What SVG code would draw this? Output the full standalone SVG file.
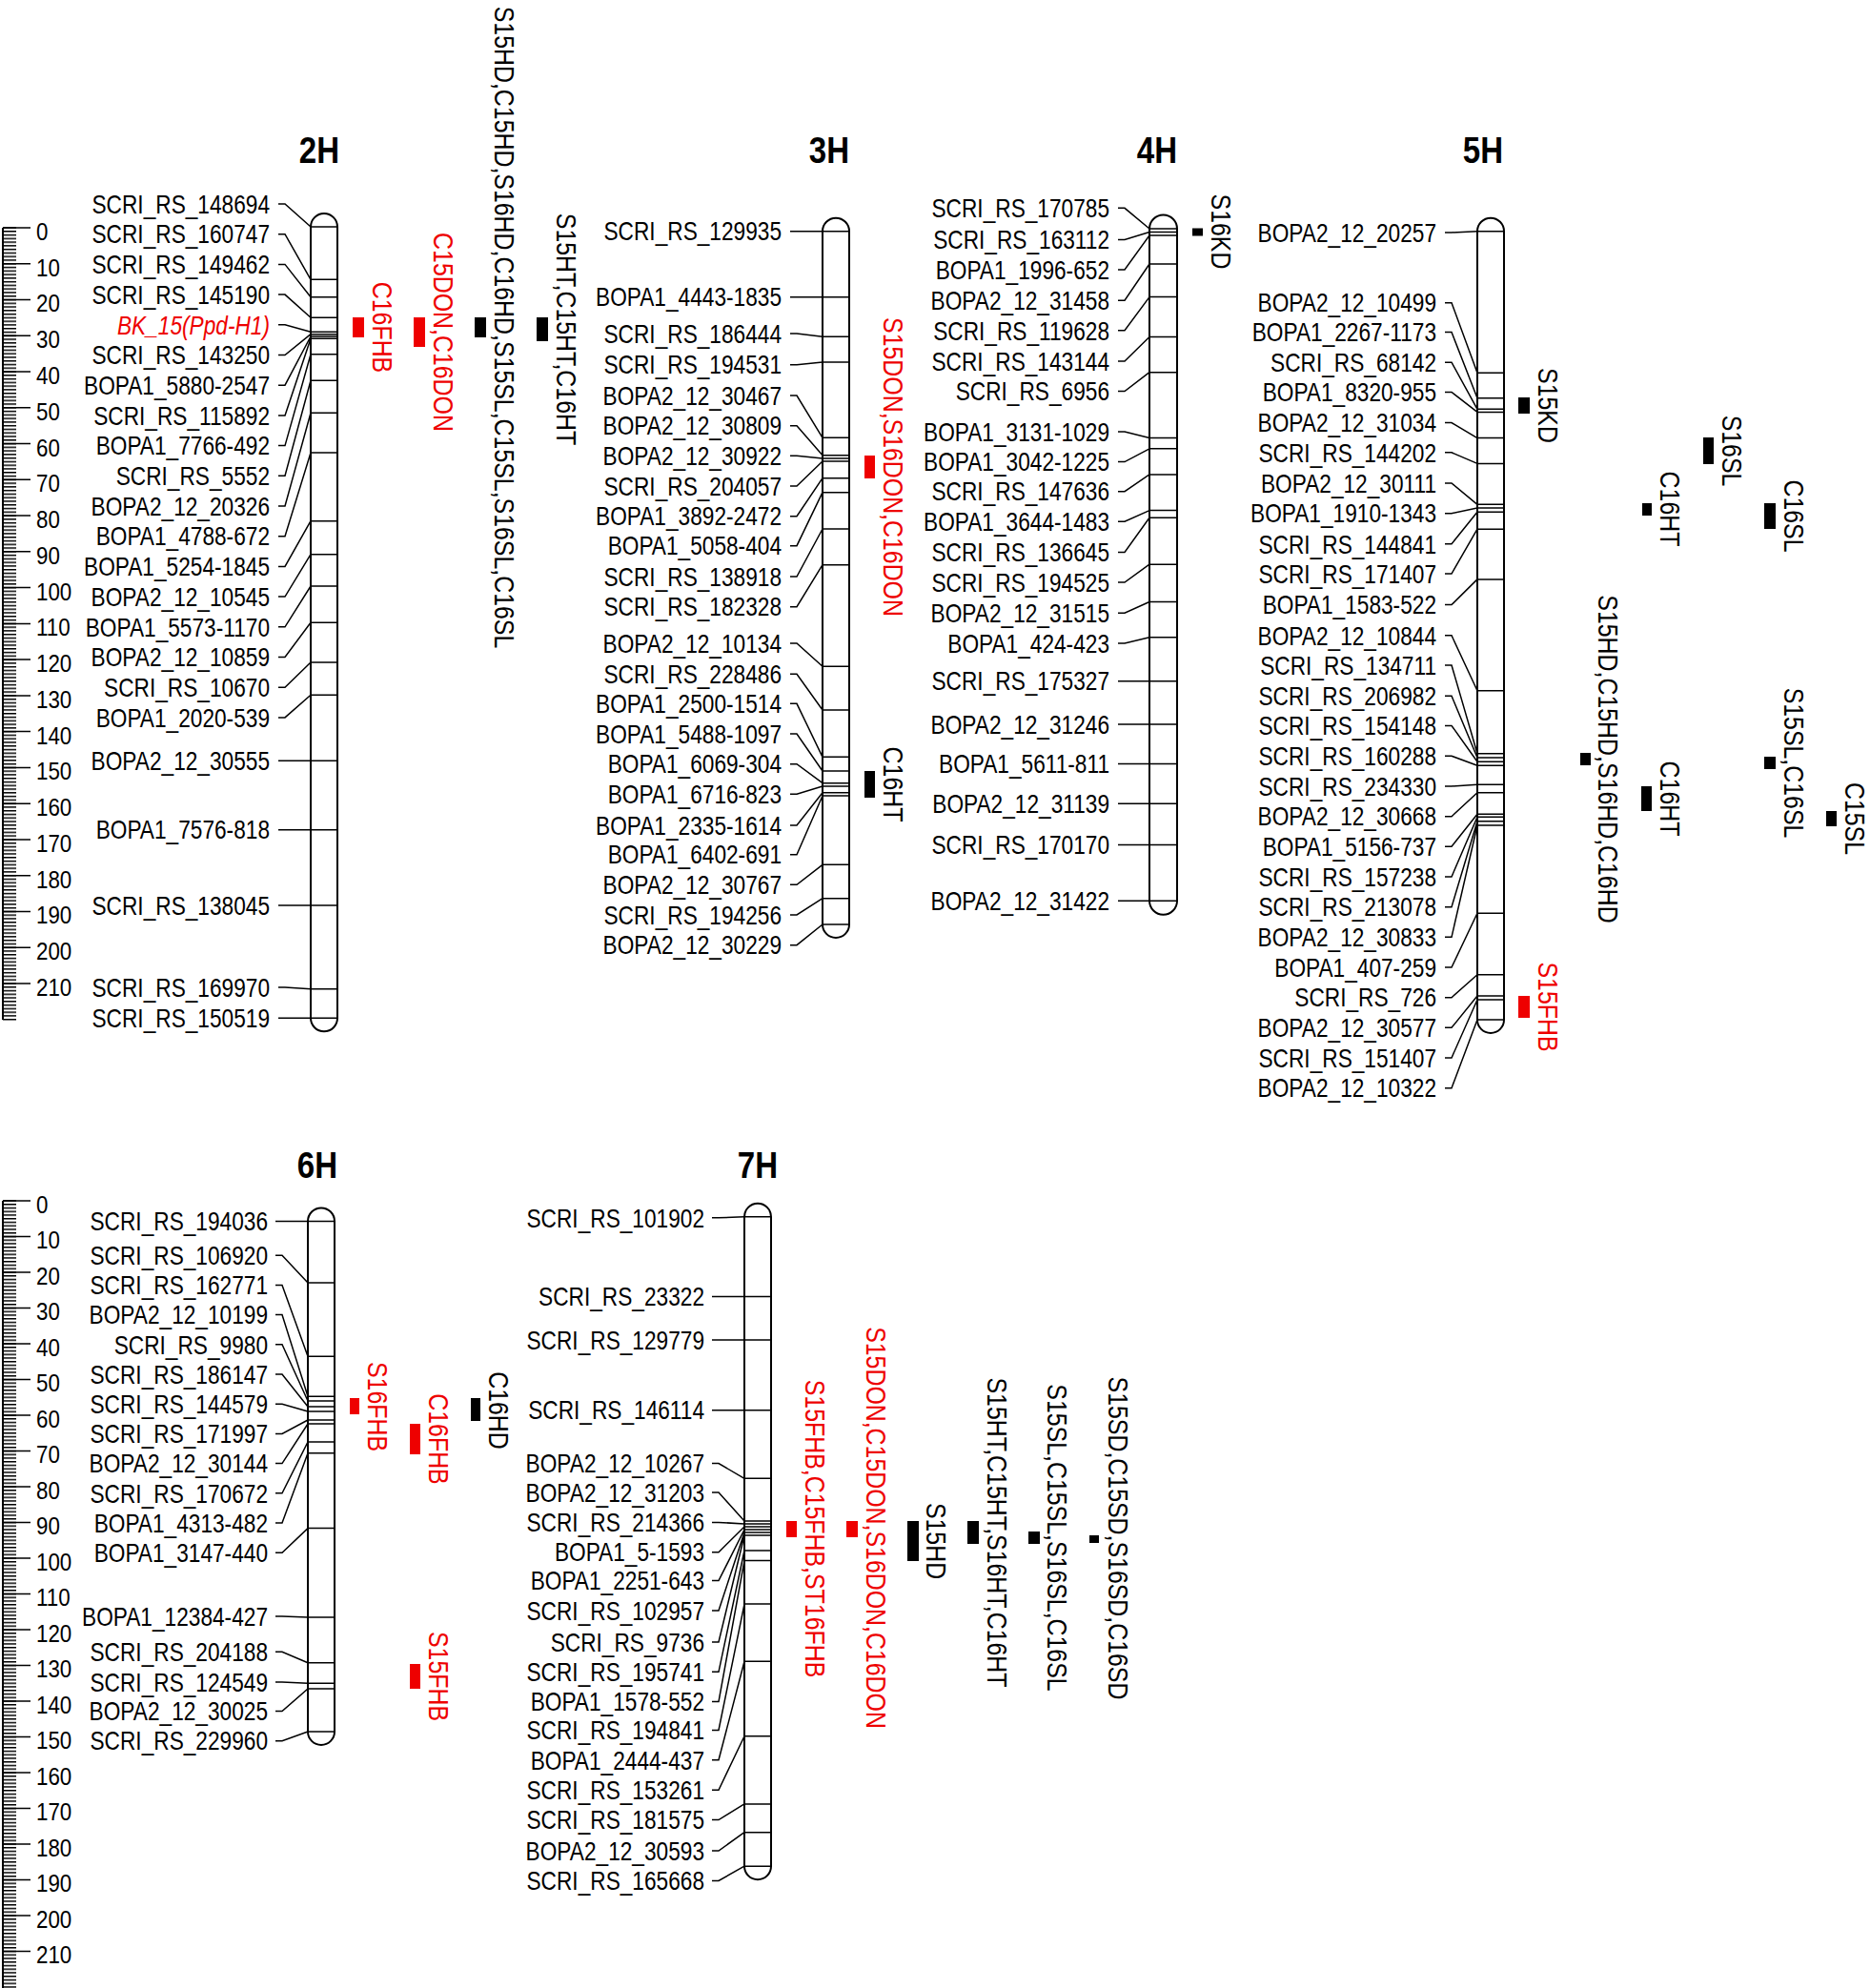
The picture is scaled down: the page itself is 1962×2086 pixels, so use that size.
<svg xmlns="http://www.w3.org/2000/svg" width="1962" height="2086" viewBox="0 0 1962 2086">
<style>
text{font-family:"Liberation Sans",Arial,sans-serif;fill:#000}
.t{font-size:27px;text-anchor:end}
.s{font-size:26px}
.h{font-size:38px;font-weight:bold;text-anchor:middle}
.q{font-size:30px;text-anchor:middle}
.r{fill:#ee0000}
.i{font-style:italic}
.chr{fill:#fff;stroke:#000;stroke-width:2}
.mk{fill:none;stroke:#000;stroke-width:1.5}
.cn{fill:none;stroke:#000;stroke-width:1.5}
.bk{fill:#000}
.rb{fill:#ee0000}
.ax{fill:none;stroke:#000;stroke-width:2}
</style>
<defs>
<pattern id="tk1" patternUnits="userSpaceOnUse" x="0" y="238.25" width="40" height="3.776"><path d="M3,0.75H17" stroke="#000" stroke-width="1.5"/></pattern>
<pattern id="tk2" patternUnits="userSpaceOnUse" x="0" y="1259.25" width="40" height="3.75"><path d="M3,0.75H17" stroke="#000" stroke-width="1.5"/></pattern>
</defs>
<rect width="1962" height="2086" fill="#fff"/>

<g id="ruler-top">
<rect x="0" y="238" width="20" height="833" fill="url(#tk1)"/>
<path class="ax" d="M3,239V1070"/>
<path class="mk" d="M3,239H32M3,276.8H32M3,314.5H32M3,352.3H32M3,390H32M3,427.8H32M3,465.6H32M3,503.3H32M3,541.1H32M3,578.8H32M3,616.6H32M3,654.4H32M3,692.1H32M3,729.9H32M3,767.6H32M3,805.4H32M3,843.2H32M3,880.9H32M3,918.7H32M3,956.4H32M3,994.2H32M3,1032H32"/>
<g transform="scale(0.86,1)">
<text class="s" x="44.2" y="252">0</text><text class="s" x="44.2" y="289.8">10</text><text class="s" x="44.2" y="327.5">20</text><text class="s" x="44.2" y="365.3">30</text><text class="s" x="44.2" y="403">40</text><text class="s" x="44.2" y="440.8">50</text><text class="s" x="44.2" y="478.6">60</text><text class="s" x="44.2" y="516.3">70</text><text class="s" x="44.2" y="554.1">80</text><text class="s" x="44.2" y="591.8">90</text><text class="s" x="44.2" y="629.6">100</text><text class="s" x="44.2" y="667.4">110</text><text class="s" x="44.2" y="705.1">120</text><text class="s" x="44.2" y="742.9">130</text><text class="s" x="44.2" y="780.6">140</text><text class="s" x="44.2" y="818.4">150</text><text class="s" x="44.2" y="856.2">160</text><text class="s" x="44.2" y="893.9">170</text><text class="s" x="44.2" y="931.7">180</text><text class="s" x="44.2" y="969.4">190</text><text class="s" x="44.2" y="1007.2">200</text><text class="s" x="44.2" y="1045">210</text>
</g>
</g>

<g id="ruler-bottom">
<rect x="0" y="1259" width="20" height="827" fill="url(#tk2)"/>
<path class="ax" d="M3,1260V2086"/>
<path class="mk" d="M3,1260H32M3,1297.5H32M3,1335H32M3,1372.5H32M3,1410H32M3,1447.5H32M3,1485H32M3,1522.5H32M3,1560H32M3,1597.5H32M3,1635H32M3,1672.5H32M3,1710H32M3,1747.5H32M3,1785H32M3,1822.5H32M3,1860H32M3,1897.5H32M3,1935H32M3,1972.5H32M3,2010H32M3,2047.5H32"/>
<g transform="scale(0.86,1)">
<text class="s" x="44.2" y="1273">0</text><text class="s" x="44.2" y="1310.5">10</text><text class="s" x="44.2" y="1348">20</text><text class="s" x="44.2" y="1385.5">30</text><text class="s" x="44.2" y="1423">40</text><text class="s" x="44.2" y="1460.5">50</text><text class="s" x="44.2" y="1498">60</text><text class="s" x="44.2" y="1535.5">70</text><text class="s" x="44.2" y="1573">80</text><text class="s" x="44.2" y="1610.5">90</text><text class="s" x="44.2" y="1648">100</text><text class="s" x="44.2" y="1685.5">110</text><text class="s" x="44.2" y="1723">120</text><text class="s" x="44.2" y="1760.5">130</text><text class="s" x="44.2" y="1798">140</text><text class="s" x="44.2" y="1835.5">150</text><text class="s" x="44.2" y="1873">160</text><text class="s" x="44.2" y="1910.5">170</text><text class="s" x="44.2" y="1948">180</text><text class="s" x="44.2" y="1985.5">190</text><text class="s" x="44.2" y="2023">200</text><text class="s" x="44.2" y="2060.5">210</text>
</g>
</g>

<g id="connectors">
<path class="cn" d="M292,214H299L326,238M292,245.7H299L326,293.3M292,277.4H299L326,311.7M292,309.1H299L326,333.3M292,340.8H299L326,348.3M292,372.5H299L326,350.7M292,404.2H299L326,353M292,435.9H299L326,355.3M292,467.6H299L326,371.7M292,499.3H299L326,399.3M292,531H299L326,433.3M292,562.7H299L326,475M292,594.4H299L326,546.7M292,626.1H299L326,581.7M292,657.8H299L326,615M292,689.5H299L326,653.3M292,721.2H299L326,695M292,752.9H299L326,729.3M292,798.3H326M292,870.7H326M292,950H326M292,1036H299L326,1037.7M292,1068.3H326"/>
<path class="cn" d="M829,242.7H863M829,311.7H863M829,350H836L863,353.3M829,382.7H836L863,380M829,415H836L863,459.3M829,446.7H836L863,477.7M829,478.3H836L863,481M829,510H836L863,484M829,541.7H836L863,501.7M829,572.7H836L863,516.7M829,605H836L863,555M829,636.7H836L863,592.7M829,675H836L863,699.3M829,707.3H836L863,745M829,738.3H836L863,794.3M829,770H836L863,809M829,801.7H836L863,821.7M829,833.3H836L863,825M829,866H836L863,831.7M829,896.7H836L863,835M829,928.3H836L863,907.3M829,960H836L863,942.7M829,991.7H836L863,970"/>
<path class="cn" d="M1173,218.3H1180L1206,240M1173,251.4H1180L1206,243.5M1173,283H1180L1206,247M1173,315.2H1180L1206,277M1173,346.8H1180L1206,311.6M1173,379H1180L1206,353.5M1173,410.6H1180L1206,390.7M1173,453H1180L1206,459.6M1173,484.6H1180L1206,470.8M1173,515.7H1180L1206,497.9M1173,547.3H1180L1206,535.6M1173,579.5H1180L1206,543.3M1173,611.1H1180L1206,592.2M1173,643.3H1180L1206,631.5M1173,674.9H1180L1206,668.8M1173,714.7H1206M1173,760H1206M1173,801.4H1206M1173,843.3H1206M1173,886.6H1206M1173,945.3H1206"/>
<path class="cn" d="M1516,244H1523L1550,242.7M1516,317.7H1523L1550,391.3M1516,348.5H1523L1550,417.7M1516,380.2H1523L1550,429.3M1516,411.4H1523L1550,432.4M1516,443.6H1523L1550,459.6M1516,474.8H1523L1550,486.4M1516,507H1523L1550,529.3M1516,538.7H1523L1550,532.9M1516,570.8H1523L1550,537.3M1516,602H1523L1550,555.2M1516,634.6H1523L1550,607.9M1516,666.8H1523L1550,724.8M1516,698H1523L1550,790.7M1516,730.2H1523L1550,795M1516,761.4H1523L1550,799.3M1516,793.3H1523L1550,803.3M1516,825H1523L1550,823.3M1516,856.7H1523L1550,831.7M1516,888.3H1523L1550,854.3M1516,920H1523L1550,857.3M1516,951.7H1523L1550,861.7M1516,983.3H1523L1550,866M1516,1015H1523L1550,958.3M1516,1046.7H1523L1550,1022.7M1516,1078.3H1523L1550,1045M1516,1110H1523L1550,1049M1516,1141.7H1523L1550,1070"/>
<path class="cn" d="M289,1281.4H323M289,1317.2H296L323,1346M289,1348.4H296L323,1423.2M289,1379.6H296L323,1465.3M289,1410.8H296L323,1470M289,1442H296L323,1476M289,1473.2H296L323,1481M289,1504.4H296L323,1490M289,1535.6H296L323,1494M289,1566.8H296L323,1513M289,1598H296L323,1524.7M289,1629.2H296L323,1603.6M289,1695.9H296L323,1697M289,1733.3H296L323,1744.8M289,1765H296L323,1766.2M289,1795.6H296L323,1772M289,1826.7H296L323,1817"/>
<path class="cn" d="M747,1277.8H754L781,1276.8M747,1360.4H781M747,1406H781M747,1479.7H781M747,1535.6H754L781,1551.3M747,1566H754L781,1596M747,1597.4H754L781,1599M747,1628.7H754L781,1602M747,1658.6H754L781,1605M747,1690H754L781,1608M747,1722.9H754L781,1611M747,1754.3H754L781,1627M747,1785.6H754L781,1637.6M747,1815.5H754L781,1683.1M747,1846.8H754L781,1743.3M747,1878.2H754L781,1821.7M747,1909.6H754L781,1892.9M747,1942H754L781,1922.7M747,1973.4H754L781,1958.2"/>
</g>

<g id="chr-2H">
<text class="h" transform="translate(335,171) scale(0.87,1)">2H</text>
<path class="chr" d="M326,238A14,14 0 0 1 354,238V1068.3A14,14 0 0 1 326,1068.3Z"/>
<path class="mk" d="M326,238H354M326,293.3H354M326,311.7H354M326,333.3H354M326,348.3H354M326,350.7H354M326,353H354M326,355.3H354M326,371.7H354M326,399.3H354M326,433.3H354M326,475H354M326,546.7H354M326,581.7H354M326,615H354M326,653.3H354M326,695H354M326,729.3H354M326,798.3H354M326,870.7H354M326,950H354M326,1037.7H354M326,1068.3H354"/>
<text class="t" transform="translate(283,223.7) scale(0.84,1)">SCRI_RS_148694</text>
<text class="t" transform="translate(283,255.4) scale(0.84,1)">SCRI_RS_160747</text>
<text class="t" transform="translate(283,287.1) scale(0.84,1)">SCRI_RS_149462</text>
<text class="t" transform="translate(283,318.8) scale(0.84,1)">SCRI_RS_145190</text>
<text class="t r i" transform="translate(283,350.5) scale(0.84,1)">BK_15(Ppd-H1)</text>
<text class="t" transform="translate(283,382.2) scale(0.84,1)">SCRI_RS_143250</text>
<text class="t" transform="translate(283,413.9) scale(0.84,1)">BOPA1_5880-2547</text>
<text class="t" transform="translate(283,445.6) scale(0.84,1)">SCRI_RS_115892</text>
<text class="t" transform="translate(283,477.3) scale(0.84,1)">BOPA1_7766-492</text>
<text class="t" transform="translate(283,509) scale(0.84,1)">SCRI_RS_5552</text>
<text class="t" transform="translate(283,540.7) scale(0.84,1)">BOPA2_12_20326</text>
<text class="t" transform="translate(283,572.4) scale(0.84,1)">BOPA1_4788-672</text>
<text class="t" transform="translate(283,604.1) scale(0.84,1)">BOPA1_5254-1845</text>
<text class="t" transform="translate(283,635.8) scale(0.84,1)">BOPA2_12_10545</text>
<text class="t" transform="translate(283,667.5) scale(0.84,1)">BOPA1_5573-1170</text>
<text class="t" transform="translate(283,699.2) scale(0.84,1)">BOPA2_12_10859</text>
<text class="t" transform="translate(283,730.9) scale(0.84,1)">SCRI_RS_10670</text>
<text class="t" transform="translate(283,762.6) scale(0.84,1)">BOPA1_2020-539</text>
<text class="t" transform="translate(283,808) scale(0.84,1)">BOPA2_12_30555</text>
<text class="t" transform="translate(283,880.4) scale(0.84,1)">BOPA1_7576-818</text>
<text class="t" transform="translate(283,959.7) scale(0.84,1)">SCRI_RS_138045</text>
<text class="t" transform="translate(283,1045.7) scale(0.84,1)">SCRI_RS_169970</text>
<text class="t" transform="translate(283,1078) scale(0.84,1)">SCRI_RS_150519</text>
</g>

<g id="qtl-2H">
<rect class="rb" x="370" y="333" width="12" height="21"/>
<text class="q r" transform="translate(391,343.5) rotate(90) scale(0.83,1)">C16FHB</text>
<rect class="rb" x="434" y="333" width="12" height="31"/>
<text class="q r" transform="translate(455,348.5) rotate(90) scale(0.83,1)">C15DON,C16DON</text>
<rect class="bk" x="498" y="333" width="12" height="21"/>
<text class="q" transform="translate(519,343.5) rotate(90) scale(0.83,1)">S15HD,C15HD,S16HD,C16HD,S15SL,C15SL,S16SL,C16SL</text>
<rect class="bk" x="563" y="333" width="12" height="25"/>
<text class="q" transform="translate(584,345.5) rotate(90) scale(0.83,1)">S15HT,C15HT,C16HT</text>
</g>

<g id="chr-3H">
<text class="h" transform="translate(870,171) scale(0.87,1)">3H</text>
<path class="chr" d="M863,242.7A14,14 0 0 1 891,242.7V970A14,14 0 0 1 863,970Z"/>
<path class="mk" d="M863,242.7H891M863,311.7H891M863,353.3H891M863,380H891M863,459.3H891M863,477.7H891M863,481H891M863,484H891M863,501.7H891M863,516.7H891M863,555H891M863,592.7H891M863,699.3H891M863,745H891M863,794.3H891M863,809H891M863,821.7H891M863,825H891M863,831.7H891M863,835H891M863,907.3H891M863,942.7H891M863,970H891"/>
<text class="t" transform="translate(820,252.4) scale(0.84,1)">SCRI_RS_129935</text>
<text class="t" transform="translate(820,321.4) scale(0.84,1)">BOPA1_4443-1835</text>
<text class="t" transform="translate(820,359.7) scale(0.84,1)">SCRI_RS_186444</text>
<text class="t" transform="translate(820,392.4) scale(0.84,1)">SCRI_RS_194531</text>
<text class="t" transform="translate(820,424.7) scale(0.84,1)">BOPA2_12_30467</text>
<text class="t" transform="translate(820,456.4) scale(0.84,1)">BOPA2_12_30809</text>
<text class="t" transform="translate(820,488) scale(0.84,1)">BOPA2_12_30922</text>
<text class="t" transform="translate(820,519.7) scale(0.84,1)">SCRI_RS_204057</text>
<text class="t" transform="translate(820,551.4) scale(0.84,1)">BOPA1_3892-2472</text>
<text class="t" transform="translate(820,582.4) scale(0.84,1)">BOPA1_5058-404</text>
<text class="t" transform="translate(820,614.7) scale(0.84,1)">SCRI_RS_138918</text>
<text class="t" transform="translate(820,646.4) scale(0.84,1)">SCRI_RS_182328</text>
<text class="t" transform="translate(820,684.7) scale(0.84,1)">BOPA2_12_10134</text>
<text class="t" transform="translate(820,717) scale(0.84,1)">SCRI_RS_228486</text>
<text class="t" transform="translate(820,748) scale(0.84,1)">BOPA1_2500-1514</text>
<text class="t" transform="translate(820,779.7) scale(0.84,1)">BOPA1_5488-1097</text>
<text class="t" transform="translate(820,811.4) scale(0.84,1)">BOPA1_6069-304</text>
<text class="t" transform="translate(820,843) scale(0.84,1)">BOPA1_6716-823</text>
<text class="t" transform="translate(820,875.7) scale(0.84,1)">BOPA1_2335-1614</text>
<text class="t" transform="translate(820,906.4) scale(0.84,1)">BOPA1_6402-691</text>
<text class="t" transform="translate(820,938) scale(0.84,1)">BOPA2_12_30767</text>
<text class="t" transform="translate(820,969.7) scale(0.84,1)">SCRI_RS_194256</text>
<text class="t" transform="translate(820,1001.4) scale(0.84,1)">BOPA2_12_30229</text>
</g>

<g id="qtl-3H">
<rect class="rb" x="907" y="478" width="11" height="24"/>
<text class="q r" transform="translate(927,490) rotate(90) scale(0.83,1)">S15DON,S16DON,C16DON</text>
<rect class="bk" x="907" y="809" width="11" height="28"/>
<text class="q" transform="translate(927,823) rotate(90) scale(0.83,1)">C16HT</text>
</g>

<g id="chr-4H">
<text class="h" transform="translate(1214,171) scale(0.87,1)">4H</text>
<path class="chr" d="M1206,240A14.5,14.5 0 0 1 1235,240V945.3A14.5,14.5 0 0 1 1206,945.3Z"/>
<path class="mk" d="M1206,240H1235M1206,243.5H1235M1206,247H1235M1206,277H1235M1206,311.6H1235M1206,353.5H1235M1206,390.7H1235M1206,459.6H1235M1206,470.8H1235M1206,497.9H1235M1206,535.6H1235M1206,543.3H1235M1206,592.2H1235M1206,631.5H1235M1206,668.8H1235M1206,714.7H1235M1206,760H1235M1206,801.4H1235M1206,843.3H1235M1206,886.6H1235M1206,945.3H1235"/>
<text class="t" transform="translate(1164,228) scale(0.84,1)">SCRI_RS_170785</text>
<text class="t" transform="translate(1164,261.1) scale(0.84,1)">SCRI_RS_163112</text>
<text class="t" transform="translate(1164,292.7) scale(0.84,1)">BOPA1_1996-652</text>
<text class="t" transform="translate(1164,324.9) scale(0.84,1)">BOPA2_12_31458</text>
<text class="t" transform="translate(1164,356.5) scale(0.84,1)">SCRI_RS_119628</text>
<text class="t" transform="translate(1164,388.7) scale(0.84,1)">SCRI_RS_143144</text>
<text class="t" transform="translate(1164,420.3) scale(0.84,1)">SCRI_RS_6956</text>
<text class="t" transform="translate(1164,462.7) scale(0.84,1)">BOPA1_3131-1029</text>
<text class="t" transform="translate(1164,494.3) scale(0.84,1)">BOPA1_3042-1225</text>
<text class="t" transform="translate(1164,525.4) scale(0.84,1)">SCRI_RS_147636</text>
<text class="t" transform="translate(1164,557) scale(0.84,1)">BOPA1_3644-1483</text>
<text class="t" transform="translate(1164,589.2) scale(0.84,1)">SCRI_RS_136645</text>
<text class="t" transform="translate(1164,620.8) scale(0.84,1)">SCRI_RS_194525</text>
<text class="t" transform="translate(1164,653) scale(0.84,1)">BOPA2_12_31515</text>
<text class="t" transform="translate(1164,684.6) scale(0.84,1)">BOPA1_424-423</text>
<text class="t" transform="translate(1164,724.4) scale(0.84,1)">SCRI_RS_175327</text>
<text class="t" transform="translate(1164,769.7) scale(0.84,1)">BOPA2_12_31246</text>
<text class="t" transform="translate(1164,811.1) scale(0.84,1)">BOPA1_5611-811</text>
<text class="t" transform="translate(1164,853) scale(0.84,1)">BOPA2_12_31139</text>
<text class="t" transform="translate(1164,896.3) scale(0.84,1)">SCRI_RS_170170</text>
<text class="t" transform="translate(1164,955) scale(0.84,1)">BOPA2_12_31422</text>
</g>

<g id="qtl-4H">
<rect class="bk" x="1251" y="239.5" width="11" height="8"/>
<text class="q" transform="translate(1271,243) rotate(90) scale(0.83,1)">S16KD</text>
</g>

<g id="chr-5H">
<text class="h" transform="translate(1556,171) scale(0.87,1)">5H</text>
<path class="chr" d="M1550,242.7A14,14 0 0 1 1578,242.7V1070A14,14 0 0 1 1550,1070Z"/>
<path class="mk" d="M1550,242.7H1578M1550,391.3H1578M1550,417.7H1578M1550,429.3H1578M1550,432.4H1578M1550,459.6H1578M1550,486.4H1578M1550,529.3H1578M1550,532.9H1578M1550,537.3H1578M1550,555.2H1578M1550,607.9H1578M1550,724.8H1578M1550,790.7H1578M1550,795H1578M1550,799.3H1578M1550,803.3H1578M1550,823.3H1578M1550,831.7H1578M1550,854.3H1578M1550,857.3H1578M1550,861.7H1578M1550,866H1578M1550,958.3H1578M1550,1022.7H1578M1550,1045H1578M1550,1049H1578M1550,1070H1578"/>
<text class="t" transform="translate(1507,253.7) scale(0.84,1)">BOPA2_12_20257</text>
<text class="t" transform="translate(1507,327.4) scale(0.84,1)">BOPA2_12_10499</text>
<text class="t" transform="translate(1507,358.2) scale(0.84,1)">BOPA1_2267-1173</text>
<text class="t" transform="translate(1507,389.9) scale(0.84,1)">SCRI_RS_68142</text>
<text class="t" transform="translate(1507,421.1) scale(0.84,1)">BOPA1_8320-955</text>
<text class="t" transform="translate(1507,453.3) scale(0.84,1)">BOPA2_12_31034</text>
<text class="t" transform="translate(1507,484.5) scale(0.84,1)">SCRI_RS_144202</text>
<text class="t" transform="translate(1507,516.7) scale(0.84,1)">BOPA2_12_30111</text>
<text class="t" transform="translate(1507,548.4) scale(0.84,1)">BOPA1_1910-1343</text>
<text class="t" transform="translate(1507,580.5) scale(0.84,1)">SCRI_RS_144841</text>
<text class="t" transform="translate(1507,611.7) scale(0.84,1)">SCRI_RS_171407</text>
<text class="t" transform="translate(1507,644.3) scale(0.84,1)">BOPA1_1583-522</text>
<text class="t" transform="translate(1507,676.5) scale(0.84,1)">BOPA2_12_10844</text>
<text class="t" transform="translate(1507,707.7) scale(0.84,1)">SCRI_RS_134711</text>
<text class="t" transform="translate(1507,739.9) scale(0.84,1)">SCRI_RS_206982</text>
<text class="t" transform="translate(1507,771.1) scale(0.84,1)">SCRI_RS_154148</text>
<text class="t" transform="translate(1507,803) scale(0.84,1)">SCRI_RS_160288</text>
<text class="t" transform="translate(1507,834.7) scale(0.84,1)">SCRI_RS_234330</text>
<text class="t" transform="translate(1507,866.4) scale(0.84,1)">BOPA2_12_30668</text>
<text class="t" transform="translate(1507,898) scale(0.84,1)">BOPA1_5156-737</text>
<text class="t" transform="translate(1507,929.7) scale(0.84,1)">SCRI_RS_157238</text>
<text class="t" transform="translate(1507,961.4) scale(0.84,1)">SCRI_RS_213078</text>
<text class="t" transform="translate(1507,993) scale(0.84,1)">BOPA2_12_30833</text>
<text class="t" transform="translate(1507,1024.7) scale(0.84,1)">BOPA1_407-259</text>
<text class="t" transform="translate(1507,1056.4) scale(0.84,1)">SCRI_RS_726</text>
<text class="t" transform="translate(1507,1088) scale(0.84,1)">BOPA2_12_30577</text>
<text class="t" transform="translate(1507,1119.7) scale(0.84,1)">SCRI_RS_151407</text>
<text class="t" transform="translate(1507,1151.4) scale(0.84,1)">BOPA2_12_10322</text>
</g>

<g id="qtl-5H">
<rect class="bk" x="1593" y="417" width="12" height="17"/>
<text class="q" transform="translate(1614,425.5) rotate(90) scale(0.83,1)">S15KD</text>
<rect class="bk" x="1787" y="459" width="11" height="28"/>
<text class="q" transform="translate(1807,473) rotate(90) scale(0.83,1)">S16SL</text>
<rect class="bk" x="1723" y="528" width="10" height="13"/>
<text class="q" transform="translate(1742,534) rotate(90) scale(0.83,1)">C16HT</text>
<rect class="bk" x="1851" y="528" width="12" height="27"/>
<text class="q" transform="translate(1872,541.5) rotate(90) scale(0.83,1)">C16SL</text>
<rect class="bk" x="1658" y="790" width="11" height="13"/>
<text class="q" transform="translate(1677,796.5) rotate(90) scale(0.83,1)">S15HD,C15HD,S16HD,C16HD</text>
<rect class="bk" x="1722" y="825" width="11" height="26"/>
<text class="q" transform="translate(1742,838) rotate(90) scale(0.83,1)">C16HT</text>
<rect class="bk" x="1851" y="794" width="12" height="13"/>
<text class="q" transform="translate(1872,800.5) rotate(90) scale(0.83,1)">S15SL,C16SL</text>
<rect class="bk" x="1916" y="851" width="11" height="16"/>
<text class="q" transform="translate(1936,859) rotate(90) scale(0.83,1)">C15SL</text>
<rect class="rb" x="1593" y="1045" width="12" height="23"/>
<text class="q r" transform="translate(1614,1056.5) rotate(90) scale(0.83,1)">S15FHB</text>
</g>

<g id="chr-6H">
<text class="h" transform="translate(333,1236) scale(0.87,1)">6H</text>
<path class="chr" d="M323,1281.4A14,14 0 0 1 351,1281.4V1817A14,14 0 0 1 323,1817Z"/>
<path class="mk" d="M323,1281.4H351M323,1346H351M323,1423.2H351M323,1465.3H351M323,1470H351M323,1476H351M323,1481H351M323,1490H351M323,1494H351M323,1513H351M323,1524.7H351M323,1603.6H351M323,1697H351M323,1744.8H351M323,1766.2H351M323,1772H351M323,1817H351"/>
<text class="t" transform="translate(281,1291.1) scale(0.84,1)">SCRI_RS_194036</text>
<text class="t" transform="translate(281,1326.9) scale(0.84,1)">SCRI_RS_106920</text>
<text class="t" transform="translate(281,1358.1) scale(0.84,1)">SCRI_RS_162771</text>
<text class="t" transform="translate(281,1389.3) scale(0.84,1)">BOPA2_12_10199</text>
<text class="t" transform="translate(281,1420.5) scale(0.84,1)">SCRI_RS_9980</text>
<text class="t" transform="translate(281,1451.7) scale(0.84,1)">SCRI_RS_186147</text>
<text class="t" transform="translate(281,1482.9) scale(0.84,1)">SCRI_RS_144579</text>
<text class="t" transform="translate(281,1514.1) scale(0.84,1)">SCRI_RS_171997</text>
<text class="t" transform="translate(281,1545.3) scale(0.84,1)">BOPA2_12_30144</text>
<text class="t" transform="translate(281,1576.5) scale(0.84,1)">SCRI_RS_170672</text>
<text class="t" transform="translate(281,1607.7) scale(0.84,1)">BOPA1_4313-482</text>
<text class="t" transform="translate(281,1638.9) scale(0.84,1)">BOPA1_3147-440</text>
<text class="t" transform="translate(281,1705.6) scale(0.84,1)">BOPA1_12384-427</text>
<text class="t" transform="translate(281,1743) scale(0.84,1)">SCRI_RS_204188</text>
<text class="t" transform="translate(281,1774.7) scale(0.84,1)">SCRI_RS_124549</text>
<text class="t" transform="translate(281,1805.3) scale(0.84,1)">BOPA2_12_30025</text>
<text class="t" transform="translate(281,1836.4) scale(0.84,1)">SCRI_RS_229960</text>
</g>

<g id="qtl-6H">
<rect class="rb" x="367" y="1467" width="10" height="17"/>
<text class="q r" transform="translate(386,1476) rotate(90) scale(0.83,1)">S16FHB</text>
<rect class="rb" x="430" y="1494" width="11" height="32"/>
<text class="q r" transform="translate(450,1510) rotate(90) scale(0.83,1)">C16FHB</text>
<rect class="bk" x="494" y="1467" width="10" height="24"/>
<text class="q" transform="translate(513,1480) rotate(90) scale(0.83,1)">C16HD</text>
<rect class="rb" x="430" y="1746" width="11" height="26"/>
<text class="q r" transform="translate(450,1759) rotate(90) scale(0.83,1)">S15FHB</text>
</g>

<g id="chr-7H">
<text class="h" transform="translate(795,1236) scale(0.87,1)">7H</text>
<path class="chr" d="M781,1276.8A14,14 0 0 1 809,1276.8V1958.2A14,14 0 0 1 781,1958.2Z"/>
<path class="mk" d="M781,1276.8H809M781,1360.4H809M781,1406H809M781,1479.7H809M781,1551.3H809M781,1596H809M781,1599H809M781,1602H809M781,1605H809M781,1608H809M781,1611H809M781,1627H809M781,1637.6H809M781,1683.1H809M781,1743.3H809M781,1821.7H809M781,1892.9H809M781,1922.7H809M781,1958.2H809"/>
<text class="t" transform="translate(739,1287.5) scale(0.84,1)">SCRI_RS_101902</text>
<text class="t" transform="translate(739,1370.1) scale(0.84,1)">SCRI_RS_23322</text>
<text class="t" transform="translate(739,1415.7) scale(0.84,1)">SCRI_RS_129779</text>
<text class="t" transform="translate(739,1489.4) scale(0.84,1)">SCRI_RS_146114</text>
<text class="t" transform="translate(739,1545.3) scale(0.84,1)">BOPA2_12_10267</text>
<text class="t" transform="translate(739,1575.7) scale(0.84,1)">BOPA2_12_31203</text>
<text class="t" transform="translate(739,1607.1) scale(0.84,1)">SCRI_RS_214366</text>
<text class="t" transform="translate(739,1638.4) scale(0.84,1)">BOPA1_5-1593</text>
<text class="t" transform="translate(739,1668.3) scale(0.84,1)">BOPA1_2251-643</text>
<text class="t" transform="translate(739,1699.7) scale(0.84,1)">SCRI_RS_102957</text>
<text class="t" transform="translate(739,1732.6) scale(0.84,1)">SCRI_RS_9736</text>
<text class="t" transform="translate(739,1764) scale(0.84,1)">SCRI_RS_195741</text>
<text class="t" transform="translate(739,1795.3) scale(0.84,1)">BOPA1_1578-552</text>
<text class="t" transform="translate(739,1825.2) scale(0.84,1)">SCRI_RS_194841</text>
<text class="t" transform="translate(739,1856.5) scale(0.84,1)">BOPA1_2444-437</text>
<text class="t" transform="translate(739,1887.9) scale(0.84,1)">SCRI_RS_153261</text>
<text class="t" transform="translate(739,1919.3) scale(0.84,1)">SCRI_RS_181575</text>
<text class="t" transform="translate(739,1951.7) scale(0.84,1)">BOPA2_12_30593</text>
<text class="t" transform="translate(739,1983.1) scale(0.84,1)">SCRI_RS_165668</text>
</g>

<g id="qtl-7H">
<rect class="rb" x="825" y="1596" width="11" height="17"/>
<text class="q r" transform="translate(845,1604) rotate(90) scale(0.83,1)">S15FHB,C15FHB,ST16FHB</text>
<rect class="rb" x="888" y="1596" width="12" height="17"/>
<text class="q r" transform="translate(909,1603) rotate(90) scale(0.83,1)">S15DON,C15DON,S16DON,C16DON</text>
<rect class="bk" x="952" y="1596" width="12" height="42"/>
<text class="q" transform="translate(972,1617) rotate(90) scale(0.83,1)">S15HD</text>
<rect class="bk" x="1015" y="1596" width="12" height="24"/>
<text class="q" transform="translate(1036,1608) rotate(90) scale(0.83,1)">S15HT,C15HT,S16HT,C16HT</text>
<rect class="bk" x="1079" y="1607" width="12" height="13"/>
<text class="q" transform="translate(1099,1613.5) rotate(90) scale(0.83,1)">S15SL,C15SL,S16SL,C16SL</text>
<rect class="bk" x="1143" y="1611" width="10" height="8"/>
<text class="q" transform="translate(1163,1614) rotate(90) scale(0.83,1)">S15SD,C15SD,S16SD,C16SD</text>
</g>
</svg>
